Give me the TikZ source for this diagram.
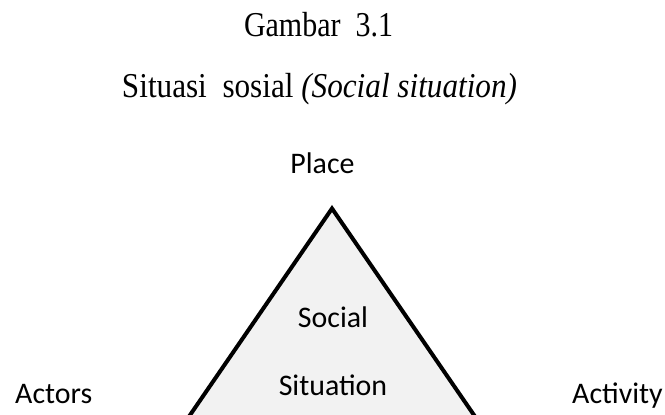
\documentclass[tikz,border=0pt]{standalone}
\usepackage{fontspec}
\setmainfont{Liberation Serif}
\newfontfamily\lblfont{Carlito}
\usepackage{graphicx}
\definecolor{trifill}{HTML}{F2F2F2}
\tikzset{
  title/.style={inner sep=0pt, anchor=base, font=\fontsize{35}{38}\selectfont},
  lbl/.style={inner sep=0pt, font=\lblfont\fontsize{30}{33}\selectfont},
  tri/.style={draw=black, fill=trifill, line width=4bp, line join=miter}
}
\begin{document}
\begin{tikzpicture}[x=1bp,y=-1bp]
\useasboundingbox (0,0) rectangle (665,414);
\clip (0,0) rectangle (665,414);
\coordinate (apex) at (332,208.5);
\coordinate (bl) at (177,434);
\coordinate (br) at (487,434);
\draw[tri] (apex) -- (bl) -- (br) -- cycle;
\node[title] (t1) at (318.5,36) {\resizebox{149bp}{\height}{Gambar\ \ 3.1}};
\node[title] (t2) at (319.5,97) {\resizebox{395bp}{\height}{Situasi\ \ sosial \textit{(Social situation)}}};
\node[lbl, anchor=base] (place) at (322.5,173) {Place};
\node[lbl, anchor=base] (social) at (333,327) {Social};
\node[lbl, anchor=base] (situation) at (333,395) {Situation};
\node[lbl, anchor=base west] (actors) at (15,403) {Actors};
\node[lbl, anchor=base west] (activity) at (572,403) {Activity};
\end{tikzpicture}
\end{document}
